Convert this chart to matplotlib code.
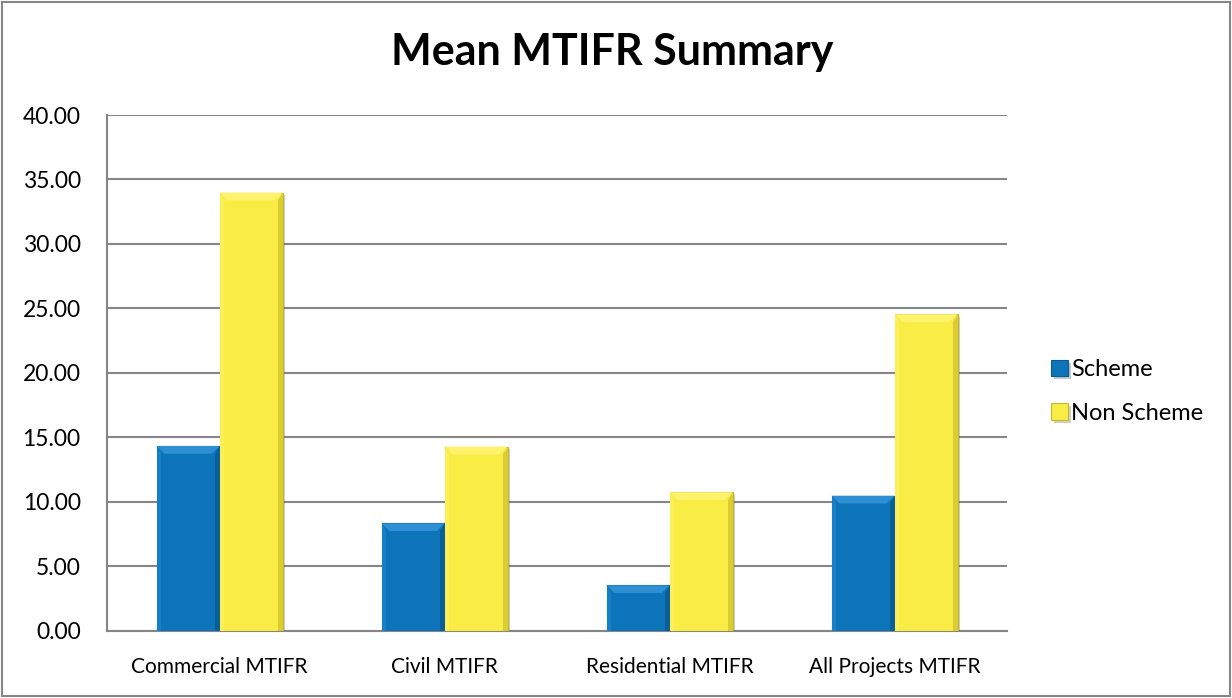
import matplotlib.pyplot as plt
import matplotlib.patheffects as pe
from matplotlib.patches import Polygon
import numpy as np

categories = ['Commercial MTIFR', 'Civil MTIFR', 'Residential MTIFR', 'All Projects MTIFR']
scheme = [14.33, 8.33, 3.52, 10.47]
non_scheme = [33.98, 14.28, 10.74, 24.55]
series_names = ['Scheme', 'Non Scheme']
yticks = [0, 5, 10, 15, 20, 25, 30, 35, 40]

plt.rcParams['font.family'] = ['Lato', 'DejaVu Sans']

fig = plt.figure(figsize=(12.32, 6.98), dpi=100)
ax = fig.add_axes([0.0869, 0.0964, 0.7305, 0.7388])

x = np.arange(len(categories))
w = 0.28
shadow = [pe.SimplePatchShadow(offset=(2, -2), alpha=0.25), pe.Normal()]

b1 = ax.bar(x - w / 2, scheme, w, color='#0E74B9', edgecolor='#0A5A92',
            linewidth=0.8, label=series_names[0], zorder=3, path_effects=shadow)
b2 = ax.bar(x + w / 2, non_scheme, w, color='#F9EC45', edgecolor='#C4B82E',
            linewidth=0.8, label=series_names[1], zorder=3, path_effects=shadow)

ax.set_xlim(-0.5, len(categories) - 0.5)
ax.set_ylim(0, 40)

# bevel look: lighter top, darker right, built from each bar's own rectangle
dx, dy = 0.035, 0.6
for bars, top_c, right_c, left_c in ((b1, '#2E90D2', '#0A5F98', '#1580C6'),
                                     (b2, '#FFF36E', '#D9CD33', '#FBF05A')):
    for r in bars:
        x0, x1, h = r.get_x(), r.get_x() + r.get_width(), r.get_height()
        ax.add_patch(Polygon([(x0, h), (x1, h), (x1 - dx, h - dy), (x0 + dx, h - dy)],
                             closed=True, color=top_c, lw=0, zorder=4))
        ax.add_patch(Polygon([(x1, h), (x1, 0), (x1 - dx * 0.6, 0), (x1 - dx * 0.6, h - dy)],
                             closed=True, color=right_c, lw=0, zorder=4))
        ax.add_patch(Polygon([(x0, h), (x0, 0), (x0 + dx * 0.6, 0), (x0 + dx * 0.6, h - dy)],
                             closed=True, color=left_c, lw=0, zorder=4))

ax.set_yticks(yticks)
ax.set_yticklabels([f'{v:.2f}' for v in yticks], fontsize=16.5)
ax.set_xticks(x)
ax.set_xticklabels(categories, fontsize=15)
ax.tick_params(axis='x', length=0, pad=19)
ax.tick_params(axis='y', length=0, pad=19)

ax.grid(axis='y', color='#868686', linewidth=1.5, zorder=0)
ax.set_axisbelow(True)
for s in ['top', 'right']:
    ax.spines[s].set_visible(False)
ax.spines['left'].set_color('#868686')
ax.spines['bottom'].set_color('#868686')
ax.spines['left'].set_linewidth(1.5)
ax.spines['bottom'].set_linewidth(1.5)

fig.text(0.4965, 0.925, 'Mean MTIFR Summary', ha='center', va='center',
         fontsize=31, fontweight='bold')

leg = fig.legend(handles=[b1, b2], labels=series_names, loc='center left',
                 bbox_to_anchor=(0.836, 0.439), frameon=False, fontsize=17,
                 handlelength=0.7, handleheight=0.7, handletextpad=0.15,
                 labelspacing=0.95)

border = plt.Rectangle((0.002, 0.003), 0.996, 0.994, transform=fig.transFigure,
                       fill=False, edgecolor='#868686', linewidth=1.5)
fig.patches.append(border)

fig.savefig('out.png', dpi=100)
